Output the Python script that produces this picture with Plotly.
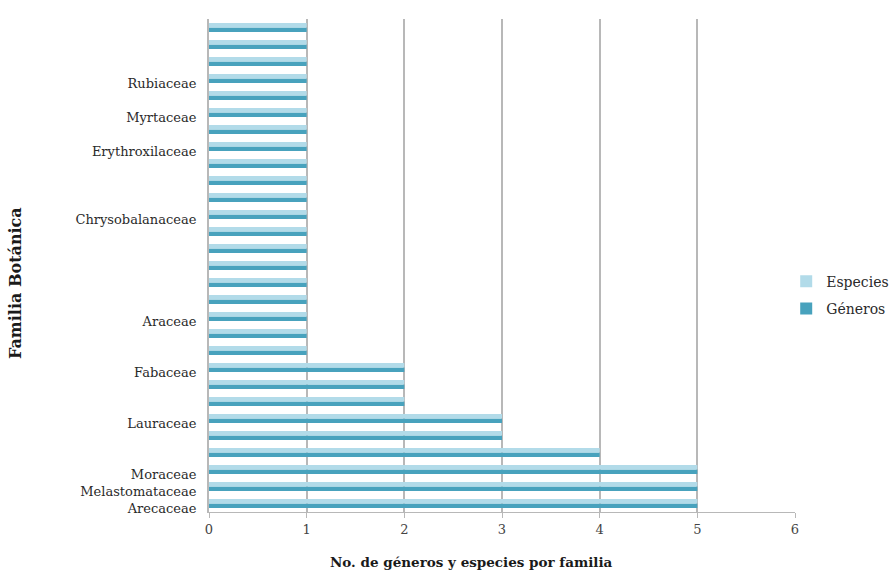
import plotly.graph_objects as go

# Categories listed bottom -> top (blank = unlabeled family in the reference)
categories = [
    "Arecaceae", "Melastomataceae", "Moraceae", "", "", "Lauraceae", "", "",
    "Fabaceae", "", "", "Araceae", "", "", "", "", "", "Chrysobalanaceae",
    "", "", "", "Erythroxilaceae", "", "Myrtaceae", "", "Rubiaceae", "", "", "",
]
especies = [5, 5, 5, 4, 3, 3, 2, 2, 2, 1, 1, 1, 1, 1, 1, 1, 1, 1, 1, 1, 1, 1, 1, 1, 1, 1, 1, 1, 1]
generos = [5, 5, 5, 4, 3, 3, 2, 2, 2, 1, 1, 1, 1, 1, 1, 1, 1, 1, 1, 1, 1, 1, 1, 1, 1, 1, 1, 1, 1]
x_ticks = [0, 1, 2, 3, 4, 5, 6]

positions = list(range(len(categories)))

FONT = "DejaVu Serif"

fig = go.Figure()
fig.add_trace(go.Bar(
    y=positions, x=generos, orientation="h", name="Géneros",
    marker=dict(color="#48a2bd", line=dict(width=0)),
    legendgroup="g", legendrank=2,
))
fig.add_trace(go.Bar(
    y=positions, x=especies, orientation="h", name="Especies",
    marker=dict(color="#b2dbe9", line=dict(width=0)),
    legendgroup="e", legendrank=1,
))

fig.update_layout(
    width=890, height=574,
    margin=dict(l=209, r=95, t=19, b=62, autoexpand=False),
    paper_bgcolor="white", plot_bgcolor="white",
    barmode="group", bargap=0.46, bargroupgap=0,
    font=dict(family=FONT, size=12, color="#333333"),
    showlegend=True,
    legend=dict(
        x=0.985, xanchor="left", y=0.44, yanchor="middle",
        traceorder="grouped", tracegroupgap=6,
        bgcolor="rgba(0,0,0,0)",
        font=dict(family=FONT, size=14, color="#2a2a2a"),
        itemwidth=30,
    ),
    xaxis=dict(
        range=[0, 6], tickvals=x_ticks, ticktext=[str(v) for v in x_ticks],
        showgrid=True, gridcolor="#b8b8b8", gridwidth=2,
        showline=True, linecolor="#b8b8b8", linewidth=1,
        ticks="outside", ticklen=5, tickcolor="#b8b8b8",
        zeroline=False, tickfont=dict(family=FONT, size=13, color="#444444"),
    ),
    yaxis=dict(
        range=[-0.5, len(categories) - 0.5],
        tickvals=positions, ticktext=categories,
        showgrid=False, showline=True, linecolor="#b8b8b8", linewidth=2,
        ticks="", zeroline=False, ticklabelstandoff=8, ticklabelshift=5,
        tickfont=dict(family=FONT, size=13, color="#2a2a2a"),
    ),
    annotations=[
        dict(text="<b>No. de géneros y especies por familia</b>", x=471, y=562,
             xref="paper", yref="paper", showarrow=False,
             xanchor="center", yanchor="middle",
             font=dict(family=FONT, size=13.5, color="#1a1a1a")),
        dict(text="<b>Familia Botánica</b>", x=15, y=283, textangle=-90,
             xref="paper", yref="paper", showarrow=False,
             xanchor="center", yanchor="middle",
             font=dict(family=FONT, size=16, color="#1a1a1a")),
    ],
)

# Convert pixel-based annotation positions to paper coordinates
pw = 890 - 209 - 95
ph = 574 - 19 - 62
anns = list(fig.layout.annotations)
for a in anns:
    a.x = (a.x - 209) / pw
    a.y = (574 - 62 - a.y) / ph
fig.update_layout(annotations=anns)

fig.write_html("out.html")
